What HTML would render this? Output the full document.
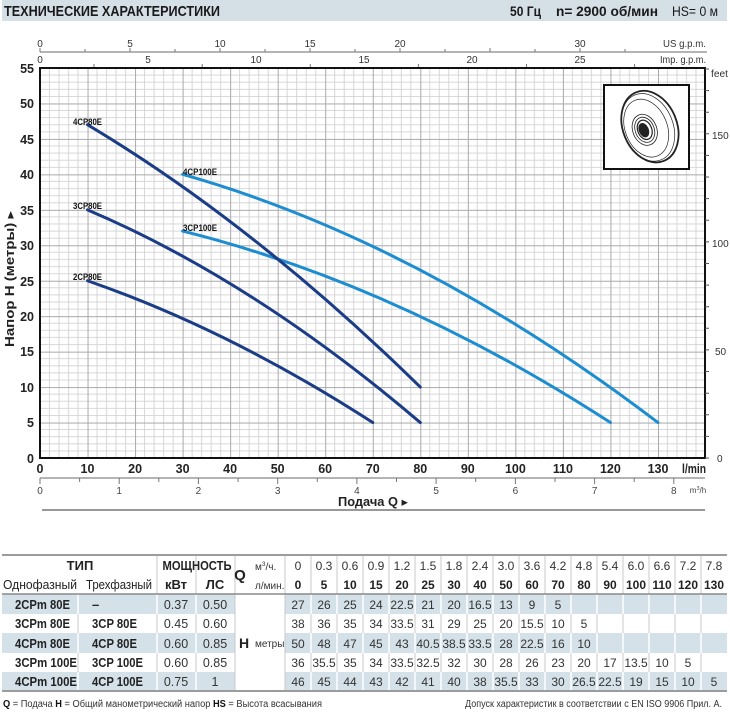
<!DOCTYPE html>
<html><head><meta charset="utf-8"><style>
html,body{margin:0;padding:0;background:#fff;}
svg{display:block;}
text{font-family:"Liberation Sans","DejaVu Sans",sans-serif;}
</style></head><body>
<svg width="730" height="721" viewBox="0 0 730 721" xmlns="http://www.w3.org/2000/svg">
<defs>
<pattern id="g" x="40" y="68" width="47.536" height="35.4545" patternUnits="userSpaceOnUse">
<path d="M9.507 0V35.4545M19.014 0V35.4545M28.522 0V35.4545M38.029 0V35.4545M0 7.0909H47.536M0 14.1818H47.536M0 21.2727H47.536M0 28.3636H47.536" stroke="#d2d2d2" stroke-width="0.9" fill="none"/>
<path d="M0 0V35.4545M0 0H47.536" stroke="#a9a9a9" stroke-width="2" fill="none"/>
</pattern>
</defs>

<!-- header -->
<rect x="2" y="0" width="725" height="21" fill="#d5dfe6"/>
<text x="4" y="16" font-size="15" font-weight="bold" fill="#1a1a1a" textLength="216" lengthAdjust="spacingAndGlyphs">ТЕХНИЧЕСКИЕ ХАРАКТЕРИСТИКИ</text>
<text x="510" y="16" font-size="13.5" font-weight="bold" fill="#1a1a1a" textLength="31" lengthAdjust="spacingAndGlyphs">50 Гц</text>
<text x="556" y="16" font-size="13.5" font-weight="bold" fill="#1a1a1a" textLength="102" lengthAdjust="spacingAndGlyphs">n= 2900  об/мин</text>
<text x="672" y="16" font-size="13.5" fill="#1a1a1a" textLength="46" lengthAdjust="spacingAndGlyphs">HS= 0 м</text>

<!-- top axes -->
<line x1="40" y1="52" x2="707" y2="52" stroke="#888" stroke-width="1.2"/>
<path d="M40 52V48M85 52V49M130 52V48M175 52V49M220 52V48M265 52V49M310 52V48M355 52V49M400 52V48M445 52V49M490 52V48M535 52V49M580 52V48M625 52V49" stroke="#777" stroke-width="1"/>
<g font-size="10" fill="#333" text-anchor="middle">
<text x="40" y="47">0</text><text x="130" y="47">5</text><text x="220" y="47">10</text><text x="310" y="47">15</text><text x="400" y="47">20</text><text x="580" y="47">30</text>
<text x="40" y="63">0</text><text x="148" y="63">5</text><text x="256" y="63">10</text><text x="364" y="63">15</text><text x="472" y="63">20</text><text x="580" y="63">25</text>
</g>
<text x="706" y="47" font-size="10" fill="#333" text-anchor="end" textLength="43" lengthAdjust="spacingAndGlyphs">US g.p.m.</text>
<text x="706" y="63" font-size="10" fill="#333" text-anchor="end" textLength="46" lengthAdjust="spacingAndGlyphs">Imp. g.p.m.</text>
<path d="M94 68V64M202.2 68V64M310.3 68V64M418.4 68V64M526.5 68V64M634.6 68V64" stroke="#777" stroke-width="1"/>

<!-- plot -->
<rect x="40" y="68" width="665" height="390" fill="url(#g)"/>
<rect x="40" y="68" width="665" height="390" fill="none" stroke="#111" stroke-width="2"/>

<!-- right feet axis -->
<path d="M705 458H709M705 436.4H709M705 414.8H709M705 393.2H709M705 371.5H709M705 349.9H709M705 328.3H709M705 306.7H709M705 285.1H709M705 263.5H709M705 241.9H709M705 220.3H709M705 198.6H709M705 177H709M705 155.4H709M705 133.8H709M705 112.2H709M705 90.6H709M705 69H709" stroke="#555" stroke-width="1"/>
<g font-size="10" fill="#333">
<text x="717" y="462">0</text><text x="715" y="355">50</text><text x="712" y="247">100</text><text x="712" y="139">150</text>
<text x="711" y="77" textLength="17" lengthAdjust="spacingAndGlyphs">feet</text>
</g>

<!-- left axis labels -->
<g font-size="12.5" font-weight="bold" fill="#222" text-anchor="end">
<text x="34" y="73">55</text><text x="34" y="108">50</text><text x="34" y="144">45</text><text x="34" y="179">40</text><text x="34" y="215">35</text><text x="34" y="250">30</text><text x="34" y="286">25</text><text x="34" y="321">20</text><text x="34" y="356">15</text><text x="34" y="392">10</text><text x="34" y="427">5</text><text x="34" y="463">0</text>
</g>
<text transform="translate(14,279) rotate(-90)" text-anchor="middle" font-size="12.5" font-weight="bold" fill="#222" textLength="136" lengthAdjust="spacingAndGlyphs">Напор H (метры) ▸</text>

<!-- bottom l/min labels -->
<g font-size="12.5" font-weight="bold" fill="#222" text-anchor="middle">
<text x="40" y="473">0</text><text x="87.5" y="473">10</text><text x="135.1" y="473">20</text><text x="182.6" y="473">30</text><text x="230.1" y="473">40</text><text x="277.7" y="473">50</text><text x="325.2" y="473">60</text><text x="372.8" y="473">70</text><text x="420.3" y="473">80</text><text x="467.8" y="473">90</text><text x="515.4" y="473">100</text><text x="562.9" y="473">110</text><text x="610.4" y="473">120</text><text x="658" y="473">130</text>
</g>
<text x="706" y="473" font-size="12.5" font-weight="bold" fill="#222" text-anchor="end" textLength="24" lengthAdjust="spacingAndGlyphs">l/min</text>

<!-- m3/h axis -->
<line x1="40" y1="478" x2="705" y2="478" stroke="#888" stroke-width="1.2"/>
<path d="M40 478V484M79.6 478V482M119.2 478V484M158.8 478V482M198.4 478V484M238.1 478V482M277.7 478V484M317.3 478V482M356.9 478V484M396.5 478V482M436.1 478V484M475.7 478V482M515.4 478V484M555 478V482M594.6 478V484M634.2 478V482M673.8 478V484" stroke="#777" stroke-width="1"/>
<g font-size="10" fill="#444" text-anchor="middle">
<text x="40" y="494">0</text><text x="119.2" y="494">1</text><text x="198.4" y="494">2</text><text x="277.7" y="494">3</text><text x="356.9" y="494">4</text><text x="436.1" y="494">5</text><text x="515.4" y="494">6</text><text x="594.6" y="494">7</text><text x="673.8" y="494">8</text>
</g>
<text x="698" y="493" font-size="8" fill="#444" text-anchor="middle">m<tspan font-size="5.5" dy="-3">3</tspan><tspan dy="3">/h</tspan></text>
<text x="373" y="506" font-size="12.5" font-weight="bold" fill="#222" text-anchor="middle" textLength="70" lengthAdjust="spacingAndGlyphs">Подача Q ▸</text>
<line x1="42" y1="510" x2="705" y2="510" stroke="#777" stroke-width="1.5"/>

<!-- curves -->
<g fill="none" stroke-width="3" stroke-linecap="round">
<path d="M182.61 174.36 Q420.29 241.73 657.97 422.55" stroke="#1c8dd0"/>
<path d="M182.61 231.09 Q396.52 284.27 610.43 422.55" stroke="#1c8dd0"/>
<path d="M87.54 124.73 Q253.91 224.0 420.29 387.09" stroke="#1b3c86"/>
<path d="M87.54 209.82 Q253.91 280.73 420.29 422.55" stroke="#1b3c86"/>
<path d="M87.54 280.73 Q230.14 330.36 372.75 422.55" stroke="#1b3c86"/>
</g>
<g font-size="9" font-weight="bold" fill="#111">
<text x="73" y="125" textLength="29" lengthAdjust="spacingAndGlyphs">4CP80E</text>
<text x="73" y="209" textLength="29" lengthAdjust="spacingAndGlyphs">3CP80E</text>
<text x="73" y="280" textLength="29" lengthAdjust="spacingAndGlyphs">2CP80E</text>
<text x="183" y="175" textLength="34" lengthAdjust="spacingAndGlyphs">4CP100E</text>
<text x="183" y="231" textLength="34" lengthAdjust="spacingAndGlyphs">3CP100E</text>
</g>

<!-- pump picture -->
<rect x="604" y="85" width="85" height="84" fill="#fff" stroke="#111" stroke-width="2"/>
<g fill="none" stroke="#222" transform="rotate(-22 649 127)">
<ellipse cx="650" cy="127" rx="27" ry="37" stroke-width="1.8"/>
<ellipse cx="648" cy="127" rx="25" ry="35" stroke-width="0.7"/>
<ellipse cx="646" cy="127" rx="21" ry="30" stroke-width="0.7"/>
<ellipse cx="644" cy="128" rx="12" ry="16" stroke-width="0.8"/>
<ellipse cx="644" cy="128" rx="9.5" ry="13" stroke-width="0.8"/>
<ellipse cx="644" cy="128" rx="7" ry="10" stroke-width="1.2"/>
<ellipse cx="643" cy="128" rx="4.5" ry="7" fill="#222"/>
</g>

<!-- table -->
<rect x="2" y="594" width="233" height="20" fill="#d4e1e9"/><rect x="285" y="594" width="442" height="20" fill="#d4e1e9"/>
<rect x="2" y="633" width="233" height="20" fill="#d4e1e9"/><rect x="285" y="633" width="442" height="20" fill="#d4e1e9"/>
<rect x="2" y="672" width="233" height="19" fill="#d4e1e9"/><rect x="285" y="672" width="442" height="19" fill="#d4e1e9"/>
<path d="M157 555V691M196 555V691M235 555V691M285 555V691M311 555V691M337 555V691M363 555V691M389 555V691M415 555V691M441 555V691M467 555V691M493 555V691M519 555V691M545 555V691M571 555V691M597 555V691M623 555V691M649 555V691M675 555V691M701 555V691M78 594V691" stroke="#c9c9c9" stroke-width="1"/>
<path d="M78 594V614M157 594V614M196 594V614M311 594V614M337 594V614M363 594V614M389 594V614M415 594V614M441 594V614M467 594V614M493 594V614M519 594V614M545 594V614M571 594V614M597 594V614M623 594V614M649 594V614M675 594V614M701 594V614M78 633V653M157 633V653M196 633V653M311 633V653M337 633V653M363 633V653M389 633V653M415 633V653M441 633V653M467 633V653M493 633V653M519 633V653M545 633V653M571 633V653M597 633V653M623 633V653M649 633V653M675 633V653M701 633V653M78 672V691M157 672V691M196 672V691M311 672V691M337 672V691M363 672V691M389 672V691M415 672V691M441 672V691M467 672V691M493 672V691M519 672V691M545 672V691M571 672V691M597 672V691M623 672V691M649 672V691M675 672V691M701 672V691" stroke="#fff" stroke-width="1.5"/>
<line x1="2" y1="555" x2="727" y2="555" stroke="#9c9c9c" stroke-width="2"/>
<line x1="2" y1="594" x2="727" y2="594" stroke="#8a8a8a" stroke-width="1.5"/>
<line x1="2" y1="691" x2="727" y2="691" stroke="#9c9c9c" stroke-width="2"/>

<g font-size="13" fill="#222">
<text x="80" y="570" font-weight="bold" text-anchor="middle">ТИП</text>
<text x="197" y="570" font-weight="bold" text-anchor="middle" textLength="69" lengthAdjust="spacingAndGlyphs">МОЩНОСТЬ</text>
<text x="3" y="589" textLength="74" lengthAdjust="spacingAndGlyphs">Однофазный</text>
<text x="86" y="589" textLength="66" lengthAdjust="spacingAndGlyphs">Трехфазный</text>
<text x="176" y="589" font-weight="bold" text-anchor="middle">кВт</text>
<text x="215" y="589" font-weight="bold" text-anchor="middle">ЛС</text>
<text x="240" y="580" font-weight="bold" font-size="15" text-anchor="middle">Q</text>
</g>
<text x="255" y="570" font-size="10" fill="#333">м<tspan font-size="6.5" dy="-4">3</tspan><tspan dy="4">/ч.</tspan></text>
<text x="255" y="589" font-size="10" fill="#333">л/мин.</text>
<text x="244" y="648" font-size="14" font-weight="bold" fill="#222" text-anchor="middle">H</text>
<text x="255" y="647" font-size="10" fill="#333">метры</text>

<g font-size="12" fill="#333" text-anchor="middle">
<text x="298" y="570">0</text><text x="324" y="570">0.3</text><text x="350" y="570">0.6</text><text x="376" y="570">0.9</text><text x="402" y="570">1.2</text><text x="428" y="570">1.5</text><text x="454" y="570">1.8</text><text x="480" y="570">2.4</text><text x="506" y="570">3.0</text><text x="532" y="570">3.6</text><text x="558" y="570">4.2</text><text x="584" y="570">4.8</text><text x="610" y="570">5.4</text><text x="636" y="570">6.0</text><text x="662" y="570">6.6</text><text x="688" y="570">7.2</text><text x="714" y="570">7.8</text>
</g>
<g font-size="12" font-weight="bold" fill="#222" text-anchor="middle">
<text x="298" y="589">0</text><text x="324" y="589">5</text><text x="350" y="589">10</text><text x="376" y="589">15</text><text x="402" y="589">20</text><text x="428" y="589">25</text><text x="454" y="589">30</text><text x="480" y="589">40</text><text x="506" y="589">50</text><text x="532" y="589">60</text><text x="558" y="589">70</text><text x="584" y="589">80</text><text x="610" y="589">90</text><text x="636" y="589">100</text><text x="662" y="589">110</text><text x="688" y="589">120</text><text x="714" y="589">130</text>
</g>

<g font-size="13" font-weight="bold" fill="#222">
<text x="15" y="609" textLength="55" lengthAdjust="spacingAndGlyphs">2CPm 80E</text><text x="92" y="609">–</text>
<text x="15" y="628" textLength="55" lengthAdjust="spacingAndGlyphs">3CPm 80E</text><text x="92" y="628" textLength="45" lengthAdjust="spacingAndGlyphs">3CP 80E</text>
<text x="15" y="648" textLength="55" lengthAdjust="spacingAndGlyphs">4CPm 80E</text><text x="92" y="648" textLength="45" lengthAdjust="spacingAndGlyphs">4CP 80E</text>
<text x="15" y="667" textLength="62" lengthAdjust="spacingAndGlyphs">3CPm 100E</text><text x="92" y="667" textLength="51" lengthAdjust="spacingAndGlyphs">3CP 100E</text>
<text x="15" y="686" textLength="62" lengthAdjust="spacingAndGlyphs">4CPm 100E</text><text x="92" y="686" textLength="51" lengthAdjust="spacingAndGlyphs">4CP 100E</text>
</g>
<g font-size="12.5" fill="#333" text-anchor="middle">
<text x="176" y="609">0.37</text><text x="215" y="609">0.50</text>
<text x="176" y="628">0.45</text><text x="215" y="628">0.60</text>
<text x="176" y="648">0.60</text><text x="215" y="648">0.85</text>
<text x="176" y="667">0.60</text><text x="215" y="667">0.85</text>
<text x="176" y="686">0.75</text><text x="215" y="686">1</text>
</g>
<g font-size="12" fill="#333" text-anchor="middle">
<text x="298" y="609">27</text><text x="324" y="609">26</text><text x="350" y="609">25</text><text x="376" y="609">24</text><text x="402" y="609">22.5</text><text x="428" y="609">21</text><text x="454" y="609">20</text><text x="480" y="609">16.5</text><text x="506" y="609">13</text><text x="532" y="609">9</text><text x="558" y="609">5</text>
<text x="298" y="628">38</text><text x="324" y="628">36</text><text x="350" y="628">35</text><text x="376" y="628">34</text><text x="402" y="628">33.5</text><text x="428" y="628">31</text><text x="454" y="628">29</text><text x="480" y="628">25</text><text x="506" y="628">20</text><text x="532" y="628">15.5</text><text x="558" y="628">10</text><text x="584" y="628">5</text>
<text x="298" y="648">50</text><text x="324" y="648">48</text><text x="350" y="648">47</text><text x="376" y="648">45</text><text x="402" y="648">43</text><text x="428" y="648">40.5</text><text x="454" y="648">38.5</text><text x="480" y="648">33.5</text><text x="506" y="648">28</text><text x="532" y="648">22.5</text><text x="558" y="648">16</text><text x="584" y="648">10</text>
<text x="298" y="667">36</text><text x="324" y="667">35.5</text><text x="350" y="667">35</text><text x="376" y="667">34</text><text x="402" y="667">33.5</text><text x="428" y="667">32.5</text><text x="454" y="667">32</text><text x="480" y="667">30</text><text x="506" y="667">28</text><text x="532" y="667">26</text><text x="558" y="667">23</text><text x="584" y="667">20</text><text x="610" y="667">17</text><text x="636" y="667">13.5</text><text x="662" y="667">10</text><text x="688" y="667">5</text>
<text x="298" y="686">46</text><text x="324" y="686">45</text><text x="350" y="686">44</text><text x="376" y="686">43</text><text x="402" y="686">42</text><text x="428" y="686">41</text><text x="454" y="686">40</text><text x="480" y="686">38</text><text x="506" y="686">35.5</text><text x="532" y="686">33</text><text x="558" y="686">30</text><text x="584" y="686">26.5</text><text x="610" y="686">22.5</text><text x="636" y="686">19</text><text x="662" y="686">15</text><text x="688" y="686">10</text><text x="714" y="686">5</text>
</g>

<!-- footer -->
<text x="3" y="707" font-size="10" fill="#333" textLength="319" lengthAdjust="spacingAndGlyphs"><tspan font-weight="bold" fill="#111">Q</tspan> = Подача   <tspan font-weight="bold" fill="#111">H</tspan> = Общий манометрический напор   <tspan font-weight="bold" fill="#111">HS</tspan> = Высота всасывания</text>
<text x="722" y="707" font-size="10" fill="#333" text-anchor="end" textLength="257" lengthAdjust="spacingAndGlyphs">Допуск характеристик в соответствии с EN ISO 9906 Прил. А.</text>
</svg>
</body></html>
